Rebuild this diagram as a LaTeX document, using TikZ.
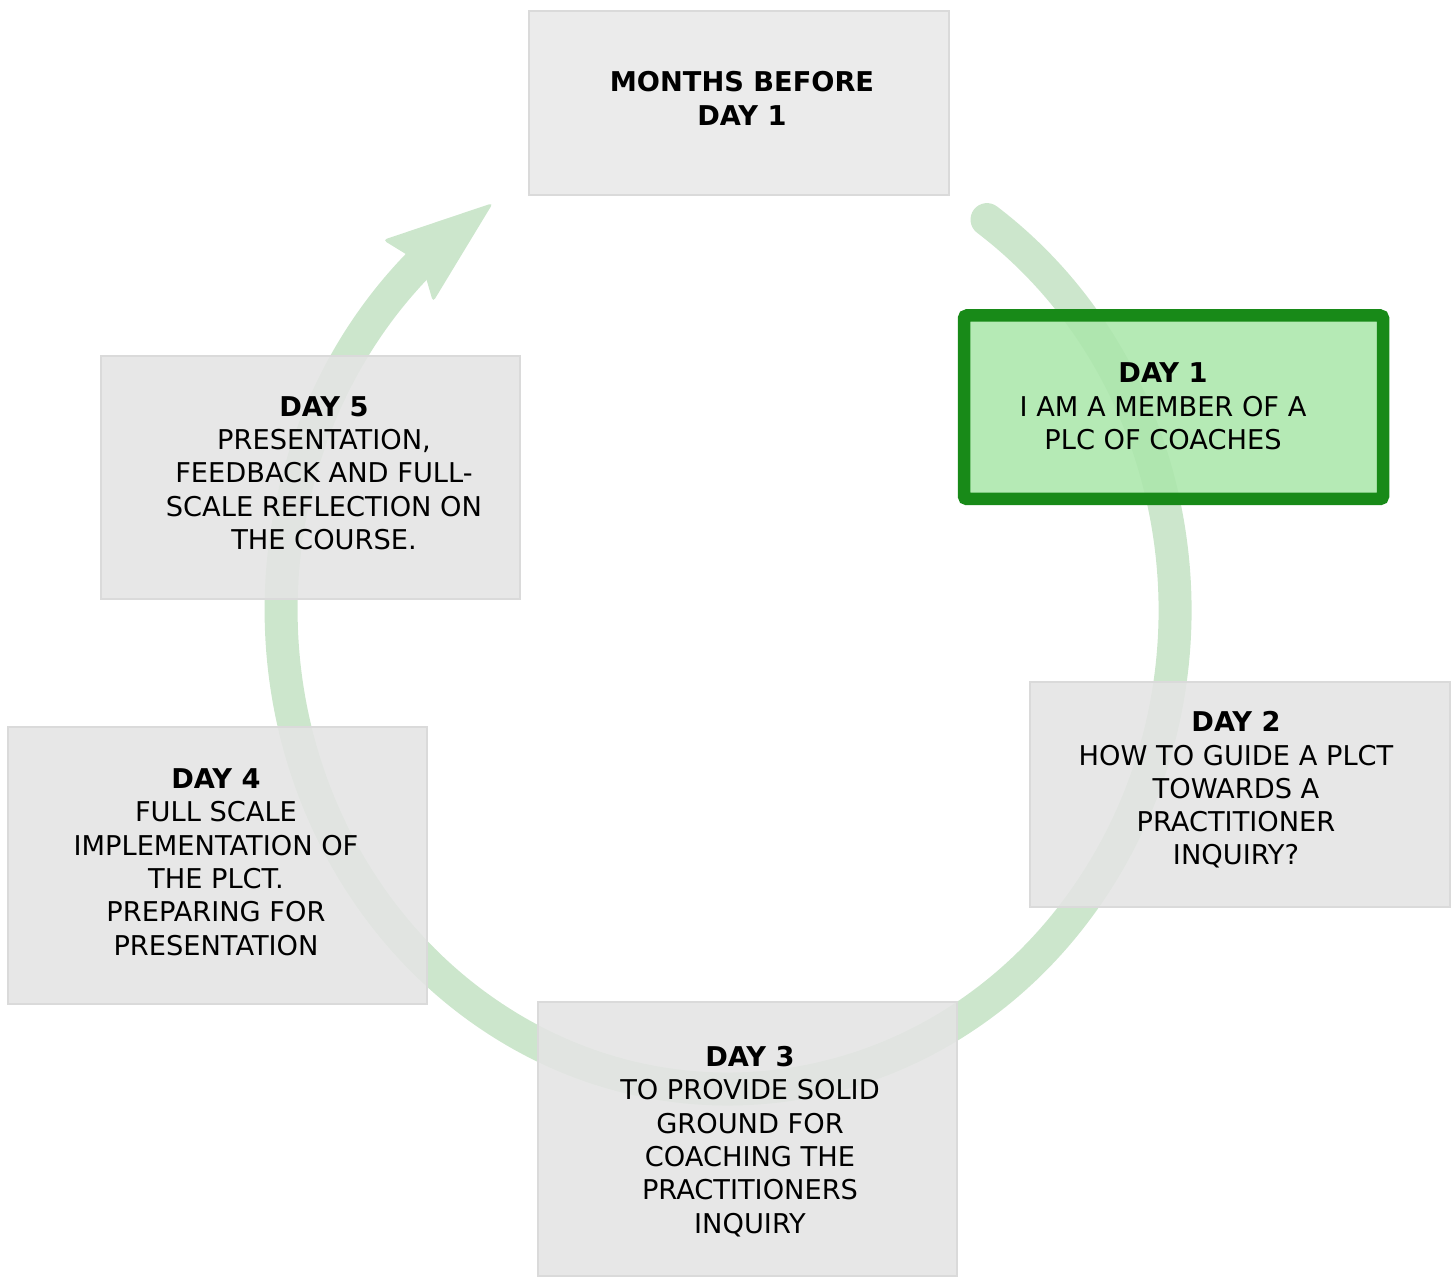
\documentclass[tikz,border=0pt]{standalone}
\usepackage{fontspec}
\setmainfont{DejaVu Sans}

\definecolor{cyclegreen}{RGB}{204,230,204}
\definecolor{boxgray}{RGB}{228,228,228}
\definecolor{topgray}{RGB}{232,232,232}
\definecolor{boxline}{RGB}{218,218,218}
\definecolor{activefill}{RGB}{171,231,171}
\definecolor{activeline}{RGB}{24,138,24}

\tikzset{
  stagebox/.style={rectangle, inner sep=0pt, fill=boxgray, fill opacity=0.88,
    draw=boxline, line width=0.4pt},
  activebox/.style={rectangle, inner sep=0pt, fill=activefill, fill opacity=0.88,
    draw=activeline, line width=0.125cm, rounded corners=0.03cm},
  stagetext/.style={inner sep=0pt, align=center, text=black,
    font=\fontsize{7.75}{9.48}\selectfont},
  cyclearc/.style={draw=cyclegreen, line width=0.33cm, line cap=round},
}

\begin{document}
\begin{tikzpicture}
\useasboundingbox (0,0) rectangle (14.52,-12.77);

% the cycle: an elliptical arc running clockwise, ending in a broad head
\draw[cyclearc] (9.870,-2.196)
  arc[start angle=54.6, end angle=-227.5, x radius=4.47cm, y radius=4.79cm];
\fill[cyclegreen, rounded corners=0.04cm]
  (4.93,-2.03) -- (3.83,-2.40) -- (4.22,-2.64) -- (4.33,-3.02) -- cycle;

% stage boxes
\node[stagebox, fill=topgray, minimum width=4.20cm, minimum height=1.84cm] (before) at (7.39,-1.03) {};
\node[activebox, minimum width=4.19cm, minimum height=1.835cm] (day1) at (11.735,-4.0725) {};
\node[stagebox, minimum width=4.20cm, minimum height=2.25cm] (day2) at (12.40,-7.945) {};
\node[stagebox, minimum width=4.19cm, minimum height=2.74cm] (day3) at (7.475,-11.39) {};
\node[stagebox, minimum width=4.19cm, minimum height=2.77cm] (day4) at (2.175,-8.655) {};
\node[stagebox, minimum width=4.19cm, minimum height=2.43cm] (day5) at (3.105,-4.775) {};

% stage texts
\node[stagetext] (beforetxt) at (7.42,-0.985) {\textbf{MONTHS BEFORE}\\\textbf{DAY 1}};
\node[stagetext] (day1txt) at (11.63,-4.065) {\textbf{DAY 1}\\I AM A MEMBER OF A\\PLC OF COACHES};
\node[stagetext] (day2txt) at (12.36,-7.90) {\textbf{DAY 2}\\HOW TO GUIDE A PLCT\\TOWARDS A\\PRACTITIONER\\INQUIRY?};
\node[stagetext] (day3txt) at (7.50,-11.415) {\textbf{DAY 3}\\TO PROVIDE SOLID\\GROUND FOR\\COACHING THE\\PRACTITIONERS\\INQUIRY};
\node[stagetext] (day4txt) at (2.16,-8.62) {\textbf{DAY 4}\\FULL SCALE\\IMPLEMENTATION OF\\THE PLCT.\\PREPARING FOR\\PRESENTATION};
\node[stagetext] (day5txt) at (3.24,-4.73) {\textbf{DAY 5}\\PRESENTATION,\\FEEDBACK AND FULL-\\SCALE REFLECTION ON\\THE COURSE.};
\end{tikzpicture}
\end{document}
